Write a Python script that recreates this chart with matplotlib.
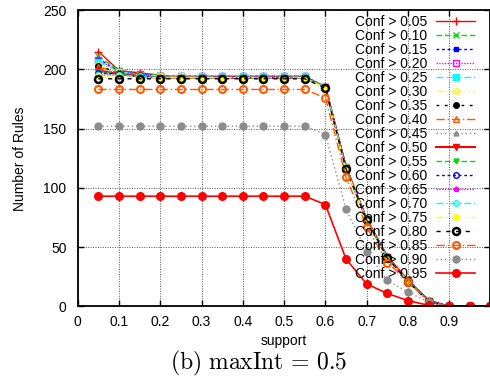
import matplotlib
matplotlib.use('Agg')
import matplotlib.pyplot as plt

plt.rcParams['font.family'] = ['Liberation Sans', 'DejaVu Sans']
plt.rcParams['mathtext.fontset'] = 'cm'

# support thresholds
support = [0.05, 0.10, 0.15, 0.20, 0.25, 0.30, 0.35, 0.40, 0.45, 0.50,
           0.55, 0.60, 0.65, 0.70, 0.75, 0.80, 0.85, 0.90, 0.95, 1.00]

conf_labels = ['Conf > 0.05', 'Conf > 0.10', 'Conf > 0.15', 'Conf > 0.20',
               'Conf > 0.25', 'Conf > 0.30', 'Conf > 0.35', 'Conf > 0.40',
               'Conf > 0.45', 'Conf > 0.50', 'Conf > 0.55', 'Conf > 0.60',
               'Conf > 0.65', 'Conf > 0.70', 'Conf > 0.75', 'Conf > 0.80',
               'Conf > 0.85', 'Conf > 0.90', 'Conf > 0.95']

# number of rules for each confidence threshold
rules_c05 = [215, 199, 197, 195, 194, 194, 194, 194, 194, 194, 194, 185, 118, 74, 42, 22, 5, 0, 0, 0]
rules_c10 = [211, 199, 196, 195, 194, 194, 194, 194, 194, 194, 194, 185, 118, 74, 42, 22, 5, 0, 0, 0]
rules_c15 = [209, 198, 196, 194, 194, 194, 194, 194, 194, 194, 194, 185, 118, 74, 42, 22, 5, 0, 0, 0]
rules_c20 = [208, 198, 196, 194, 194, 194, 194, 194, 194, 194, 194, 185, 118, 74, 42, 22, 5, 0, 0, 0]
rules_c25 = [206, 198, 195, 194, 194, 194, 194, 194, 194, 194, 194, 185, 118, 74, 42, 22, 5, 0, 0, 0]
rules_c30 = [204, 198, 195, 194, 194, 193, 193, 193, 193, 193, 193, 185, 118, 74, 42, 22, 5, 0, 0, 0]
rules_c35 = [203, 197, 195, 193, 193, 193, 193, 193, 193, 193, 193, 185, 117, 74, 42, 22, 5, 0, 0, 0]
rules_c40 = [202, 197, 195, 193, 193, 193, 193, 193, 193, 193, 193, 185, 117, 74, 42, 22, 5, 0, 0, 0]
rules_c45 = [200, 197, 194, 193, 193, 193, 193, 193, 193, 193, 193, 185, 117, 74, 42, 22, 5, 0, 0, 0]
rules_c50 = [199, 196, 194, 193, 193, 193, 193, 193, 193, 193, 193, 185, 117, 73, 42, 22, 5, 0, 0, 0]
rules_c55 = [198, 196, 194, 193, 193, 193, 193, 193, 193, 193, 193, 185, 117, 73, 41, 22, 5, 0, 0, 0]
rules_c60 = [197, 196, 194, 193, 193, 193, 193, 193, 193, 193, 193, 185, 117, 73, 41, 21, 5, 0, 0, 0]
rules_c65 = [196, 195, 194, 193, 193, 193, 193, 193, 193, 193, 193, 185, 117, 73, 41, 21, 5, 0, 0, 0]
rules_c70 = [195, 195, 194, 193, 193, 193, 193, 193, 193, 193, 193, 185, 116, 73, 41, 21, 4, 0, 0, 0]
rules_c75 = [194, 194, 193, 193, 193, 193, 193, 193, 193, 193, 193, 184, 116, 73, 41, 21, 4, 0, 0, 0]
rules_c80 = [192, 192, 192, 192, 192, 192, 192, 192, 192, 192, 192, 184, 116, 73, 41, 21, 4, 0, 0, 0]
rules_c85 = [183, 183, 183, 183, 183, 183, 183, 183, 183, 183, 183, 176, 109, 67, 37, 21, 4, 0, 0, 0]
rules_c90 = [152, 152, 152, 152, 152, 152, 152, 152, 152, 152, 152, 145, 82, 46, 22, 12, 4, 0, 0, 0]
rules_c95 = [93, 93, 93, 93, 93, 93, 93, 93, 93, 93, 93, 86, 40, 19, 11, 5, 1, 0, 0, 0]

all_rules = [rules_c05, rules_c10, rules_c15, rules_c20, rules_c25, rules_c30,
             rules_c35, rules_c40, rules_c45, rules_c50, rules_c55, rules_c60,
             rules_c65, rules_c70, rules_c75, rules_c80, rules_c85, rules_c90,
             rules_c95]

# gnuplot-like styles: color, dashes, marker, marker size, filled, line width, marker edge width
green = '#00dd00'
orange = '#ff5a00'
gray = '#8c8c8c'
styles = [
    ('red', None, '+', 6, True, 1.0, 1.0),
    (green, (0, (4, 2)), 'x', 4, True, 1.0, 1.0),
    ('blue', (0, (2, 2)), 's', 3.5, True, 1.0, 1.0),
    ('magenta', (0, (1, 1)), 's', 4, False, 1.0, 1.0),
    ('cyan', (0, (5, 2, 1, 2)), 's', 4, True, 1.0, 1.0),
    ('yellow', (0, (5, 2, 1, 2, 1, 2)), 'o', 4, False, 1.0, 1.0),
    ('black', (0, (2, 4)), 'o', 4, True, 1.0, 1.0),
    (orange, (0, (6, 2, 1, 2)), '^', 4.5, False, 1.0, 1.0),
    (gray, (0, (1, 2)), '^', 3.5, True, 1.0, 1.0),
    ('red', None, 'v', 4.5, True, 1.5, 1.0),
    (green, (0, (4, 2)), 'v', 3.5, True, 1.0, 1.0),
    ('blue', (0, (2, 2)), 'o', 4, False, 1.0, 1.0),
    ('magenta', (0, (1, 1)), 'p', 3.5, True, 1.0, 1.0),
    ('cyan', (0, (5, 2, 1, 2)), 'o', 4, False, 1.0, 1.0),
    ('yellow', (0, (5, 2, 1, 2, 1, 2)), 'o', 4, True, 1.0, 1.0),
    ('black', (0, (3, 4)), 'o', 5, False, 1.0, 1.8),
    (orange, (0, (6, 2, 1, 2)), 'o', 5, False, 1.0, 1.5),
    (gray, (0, (1, 2)), 'o', 5, True, 1.0, 1.0),
    ('red', None, 'o', 5.5, True, 1.2, 1.0),
]

fig = plt.figure(figsize=(4.9, 3.79), dpi=100)
ax = fig.add_axes([0.1586, 0.1913, 0.8424, 0.7823])

for label, rules, (col, ls, mk, ms, filled, lw, mew) in zip(conf_labels, all_rules, styles):
    linestyle = '-' if ls is None else ls
    ax.plot(support, rules, color=col, linestyle=linestyle, linewidth=lw,
            marker=mk, markersize=ms, markeredgewidth=mew,
            markerfacecolor=col if filled else 'none', markeredgecolor=col,
            label=label)

ax.set_xlim(0, 1)
ax.set_ylim(0, 250)
ax.set_xticks([0, 0.1, 0.2, 0.3, 0.4, 0.5, 0.6, 0.7, 0.8, 0.9, 1.0])
ax.set_xticklabels(['0', '0.1', '0.2', '0.3', '0.4', '0.5', '0.6', '0.7', '0.8', '0.9', ''])
ax.set_yticks([0, 50, 100, 150, 200, 250])
ax.tick_params(direction='in', length=4, width=1, labelsize=10, top=True, right=True)
ax.tick_params(axis='y', pad=8)
ax.tick_params(axis='x', pad=6)
ax.grid(True, linestyle=(0, (1, 1.5)), color='#555555', linewidth=0.7)
ax.set_axisbelow(True)
for sp in ax.spines.values():
    sp.set_linewidth(1.3)

ax.set_xlabel('support', fontsize=10, labelpad=4)
ax.set_ylabel('Number of Rules', fontsize=10, labelpad=12)

leg = ax.legend(loc='upper right', bbox_to_anchor=(475 / 490, 1 - 15 / 379),
                bbox_transform=fig.transFigure, frameon=False, fontsize=10,
                markerfirst=False, numpoints=1, handlelength=2.8,
                handletextpad=0.65, labelspacing=0.0, borderpad=0,
                borderaxespad=0)

fig.text(0.528, 1 - 369 / 379, r'$\mathrm{(b)\ maxInt}\,=\,0.5$', ha='center',
         va='baseline', fontsize=17)

fig.savefig('out.png', dpi=100)
